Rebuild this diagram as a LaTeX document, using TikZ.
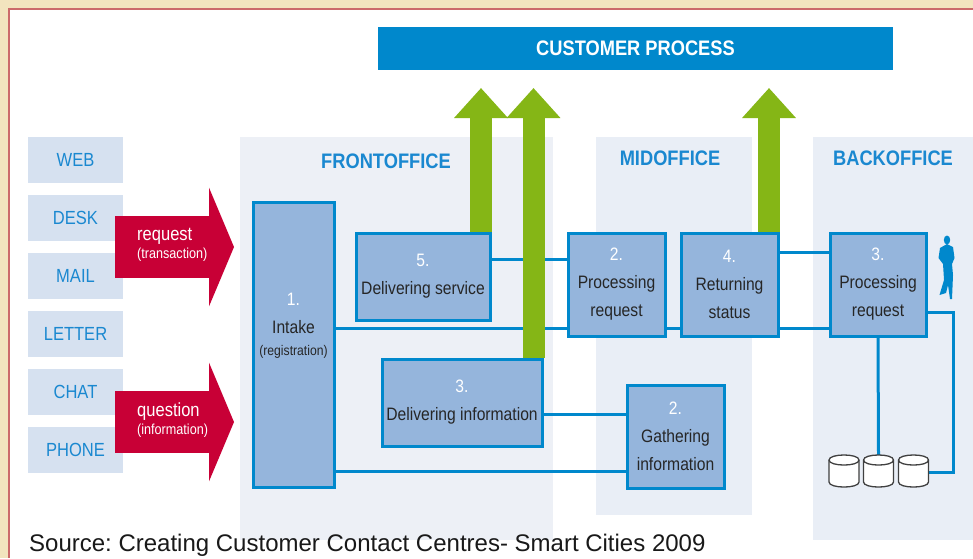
\documentclass[tikz,border=0pt]{standalone}
\usepackage{fontspec}
\usepackage{tikz}
\usetikzlibrary{arrows.meta}
\setmainfont{Liberation Sans}
\newfontfamily\narrowfont{Liberation Sans}[FakeStretch=0.87]
\definecolor{cream}{HTML}{F2E4BE}
\definecolor{edge}{HTML}{CB6A6A}
\definecolor{frontfill}{HTML}{EDF0F6}
\definecolor{panelfill}{HTML}{E9EEF6}
\definecolor{chanfill}{HTML}{D6E1F0}
\definecolor{boxfill}{HTML}{95B5DC}
\definecolor{linkblue}{HTML}{0088CC}
\definecolor{headblue}{HTML}{1A88D0}
\definecolor{redarrow}{HTML}{C80036}
\definecolor{greenarrow}{HTML}{85B616}
\newcommand{\stepnum}[1]{{\color{white}#1}}
\frenchspacing

\begin{document}
\begin{tikzpicture}[x=1pt,y=-1pt]
  \tikzset {
    panel/.style={
      rectangle,
      fill=panelfill,
      inner sep=0pt
    },
    heading/.style={
      text=headblue,
      font=\narrowfont\bfseries\fontsize{21}{25}\selectfont
    },
    channel/.style={
      rectangle,
      fill=chanfill,
      text=headblue,
      minimum width=95pt,
      minimum height=46pt,
      inner sep=0pt,
      font=\narrowfont\fontsize{19}{23}\selectfont
    },
    stepbox/.style={
      rectangle,
      draw=linkblue,
      line width=3pt,
      fill=boxfill,
      inner sep=0pt,
      align=center,
      text=black!85,
      font=\narrowfont\fontsize{18}{28}\selectfont
    },
    link/.style={
      draw=linkblue,
      line width=3pt
    },
    uparrow/.style={
      draw=greenarrow,
      line width=22pt,
      -{Triangle[length=30pt,width=52pt]}
    },
    inarrow/.style={
      draw=redarrow,
      line width=62pt,
      -{Triangle[length=25pt,width=118pt]}
    },
    inlabel/.style={
      anchor=west,
      align=left,
      text=white,
      inner sep=0pt,
      font=\narrowfont\fontsize{19}{17}\selectfont
    },
    store/.style={
      rectangle,
      inner sep=0pt,
      minimum width=30pt,
      minimum height=32pt
    }
  }
  \useasboundingbox (0,0) rectangle (973,558);
  \fill[cream] (0,0) rectangle (973,558);
  \fill[white] (8,9) rectangle (973,558);
  \draw[edge,line width=2pt] (8.5,558) -- (8.5,9) -- (973,9);

  \node[panel, fill=frontfill, minimum width=313pt, minimum height=403pt](front) at (396.5,338.5) {};
  \node[panel, minimum width=156pt, minimum height=378pt](mid) at (674,326) {};
  \node[panel, minimum width=160pt, minimum height=403pt](back) at (893,338.5) {};
  \node[heading](fronttitle) at (386,161) {FRONTOFFICE};
  \node[heading](midtitle) at (670,158) {MIDOFFICE};
  \node[heading](backtitle) at (893,158) {BACKOFFICE};

  \node[rectangle, fill=linkblue, minimum width=515pt, minimum height=43pt, inner sep=0pt,
    text=white, font=\narrowfont\bfseries\fontsize{21}{25}\selectfont](customer) at (635.5,48.5) {CUSTOMER PROCESS};

  \node[channel](web) at (75.5,160) {WEB};
  \node[channel, below of=web, node distance=58pt](desk) {DESK};
  \node[channel, below of=desk, node distance=58pt](mail) {MAIL};
  \node[channel, below of=mail, node distance=58pt](letter) {LETTER};
  \node[channel, below of=letter, node distance=58pt](chat) {CHAT};
  \node[channel, below of=chat, node distance=58pt](phone) {PHONE};

  \node[stepbox, minimum width=81pt, minimum height=285pt](intake) at (293.5,344.5)
    {\stepnum{1.}\\Intake\\[-6pt]{\fontsize{14}{16}\selectfont (registration)}\\[12pt]\mbox{}};
  \node[stepbox, minimum width=134pt, minimum height=87pt](service) at (423,276.5)
    {\stepnum{5.}\\Delivering service};
  \node[stepbox, minimum width=160pt, minimum height=87pt](inform) at (462,402.5)
    {\stepnum{3.}\\Delivering information};
  \node[stepbox, minimum width=97pt, minimum height=103pt](procmid) at (616.5,284.5)
    {\stepnum{2.}\\Processing\\request};
  \node[stepbox, minimum width=97pt, minimum height=103pt](status) at (729.5,284.5)
    {\stepnum{4.}\\Returning\\status};
  \node[stepbox, minimum width=96pt, minimum height=103pt](procback) at (878,284.5)
    {\stepnum{3.}\\Processing\\request};
  \node[stepbox, minimum width=97pt, minimum height=103pt](gather) at (675.5,436.5)
    {\stepnum{2.}\\Gathering\\information};

  % links between the steps
  \path[link] (service.east |- 0,259) -- (procmid.west |- 0,259);
  \path[link] (intake.east |- 0,328) -- (procmid.west |- 0,328);
  \path[link] (procmid.east |- 0,328) -- (status.west |- 0,328);
  \path[link] (status.east |- 0,328) -- (procback.west |- 0,328);
  \path[link] (status.east |- 0,252) -- (procback.west |- 0,252);
  \path[link] (inform.east |- 0,414) -- (gather.west |- 0,414);
  \path[link] (intake.east |- 0,471) -- (gather.west |- 0,471);

  \node[store](dbone) at (844,471) {};
  \node[store](dbtwo) at (878.5,471) {};
  \node[store](dbthree) at (913.5,471) {};
  \path[link] (procback.south) -- (dbtwo.north);
  \path[link] (procback.east |- 0,312) -| (953,472) -- (dbthree.east |- 0,472);
  \foreach \db in {dbone,dbtwo,dbthree} {
    \filldraw[shift={(\db.center)}, draw=black!75, line width=1.3pt, fill=white]
      (-15,-11) .. controls (-15,-17.7) and (15,-17.7) .. (15,-11) -- (15,11)
      .. controls (15,17.7) and (-15,17.7) .. (-15,11) -- cycle;
    \draw[shift={(\db.center)}, draw=black!75, line width=1.3pt]
      (-15,-11) .. controls (-15,-4.3) and (15,-4.3) .. (15,-11);
  }

  % green arrows go up to the customer process
  \coordinate (tipservice) at (481,88);
  \coordinate (tipinform) at (533.5,88);
  \coordinate (tipstatus) at (769,88);
  \draw[uparrow] (tipservice |- service.north) -- (tipservice);
  \draw[uparrow] (tipinform |- inform.north) -- (tipinform);
  \draw[uparrow] (tipstatus |- status.north) -- (tipstatus);

  % red arrows
  \coordinate (reqstart) at (115,247);
  \coordinate (reqtip) at (234,247);
  \coordinate (questart) at (115,422);
  \coordinate (quetip) at (234,422);
  \draw[inarrow] (reqstart) -- (reqtip);
  \draw[inarrow] (questart) -- (quetip);
  \node[inlabel](request) at (137,245) {request\\[1pt]{\fontsize{14.5}{16}\selectfont (transaction)}};
  \node[inlabel](question) at (137,420) {question\\[1pt]{\fontsize{14.5}{16}\selectfont (information)}};

  % man next to the back office step
  \fill[linkblue] (947,240) ellipse (3.2pt and 4.5pt);
  \fill[linkblue] (947,244) -- (953,247) -- (954.5,258) -- (952,264) -- (953,275) -- (952,299)
    -- (950,299) -- (948,285) -- (946,293) -- (939.5,295) -- (944,280) -- (943,264)
    -- (938.5,258) -- (940,248) -- cycle;

  \node[anchor=base west, inner sep=0pt, text=black!90, font=\fontsize{24}{28}\selectfont](source) at (29,551)
    {Source: Creating Customer Contact Centres- Smart Cities 2009};
\end{tikzpicture}
\end{document}
